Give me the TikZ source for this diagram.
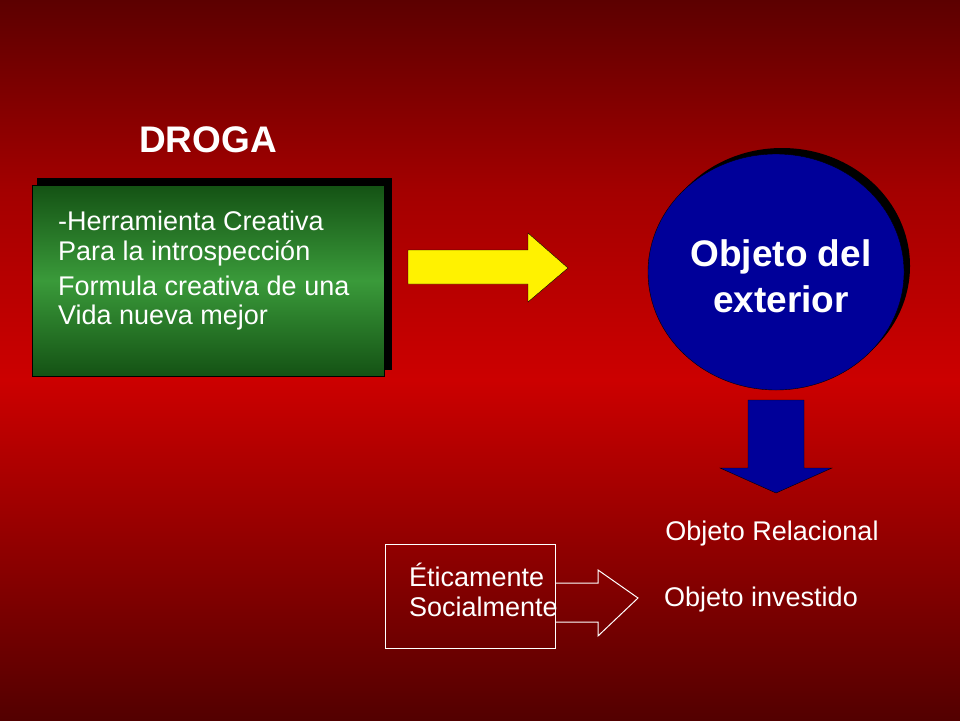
\documentclass[tikz,border=0pt]{standalone}
\usepackage{fontspec}
\setmainfont{Liberation Sans}
\usetikzlibrary{positioning}
\definecolor{darkred}{HTML}{5C0000}
\definecolor{midred}{HTML}{CC0000}
\definecolor{boxgreen}{HTML}{3A9A3A}
\definecolor{deepgreen}{HTML}{145214}
\definecolor{navy}{HTML}{000099}
\begin{document}
\begin{tikzpicture}[
        x = 1pt, y = -1pt, % pixel units, y pointing down
        txt/.style = {text = white, font = \fontsize{27}{32}\selectfont, inner sep = 0pt},
        big/.style = {text = white, font = \bfseries\fontsize{37}{46}\selectfont, align = center}
    ]

    % background
    \shade[top color = darkred, bottom color = midred, middle color = midred!80!black]
        (0,0) rectangle (960,380);
    \shade[top color = midred, bottom color = darkred!90!black] (0,380) rectangle (960,720);
    \useasboundingbox (0,0) rectangle (960,720);

    \node (droga) [big] at (208,140) {DROGA};

    % green box with shadow
    \fill[black] (37,178) rectangle (392,370);
    \shade[top color = deepgreen, bottom color = deepgreen, middle color = boxgreen, draw = black]
        (32,185) rectangle (384,376);
    \node (l1) [txt, anchor = west] at (58,221) {-Herramienta Creativa};
    \node (l2) [txt, anchor = west] at (58,253) {Para la introspección};
    \node (l3) [txt, anchor = west] at (58,286) {Formula creativa de una};
    \node (l4) [txt, anchor = west] at (58,318) {Vida nueva mejor};

    % yellow arrow
    \filldraw[fill = yellow, draw = black, thin] (408,250) -- (528,250) -- (528,233) -- (568,268)
        -- (528,302) -- (528,284) -- (408,284) -- cycle;

    % circle with shadow
    \fill[black] (782,266) ellipse [x radius = 128, y radius = 118];
    \filldraw[fill = navy, draw = black] (776,272) ellipse [x radius = 128, y radius = 118];
    \node (obj) [big] at (781,276) {Objeto del\\exterior};

    % blue arrow down
    \filldraw[fill = navy, draw = black, thin] (748,400) -- (804,400) -- (804,468) -- (832,468)
        -- (776,493) -- (720,468) -- (748,468) -- cycle;

    \node (rel) [txt] at (772,534) {Objeto Relacional};
    \node (inv) [txt] at (761,600) {Objeto investido};

    % lower box and outlined arrow
    \draw[white, line width = 1pt] (385,544) rectangle (555,648);
    \node (eti) [txt, anchor = west] at (409,575) {Éticamente};
    \node (soc) [txt, anchor = west] at (409,607) {Socialmente};
    \draw[white, line width = 1pt] (555,583) -- (598,583) -- (598,570) -- (638,598)
        -- (598,636) -- (598,622) -- (555,622);

\end{tikzpicture}
\end{document}
